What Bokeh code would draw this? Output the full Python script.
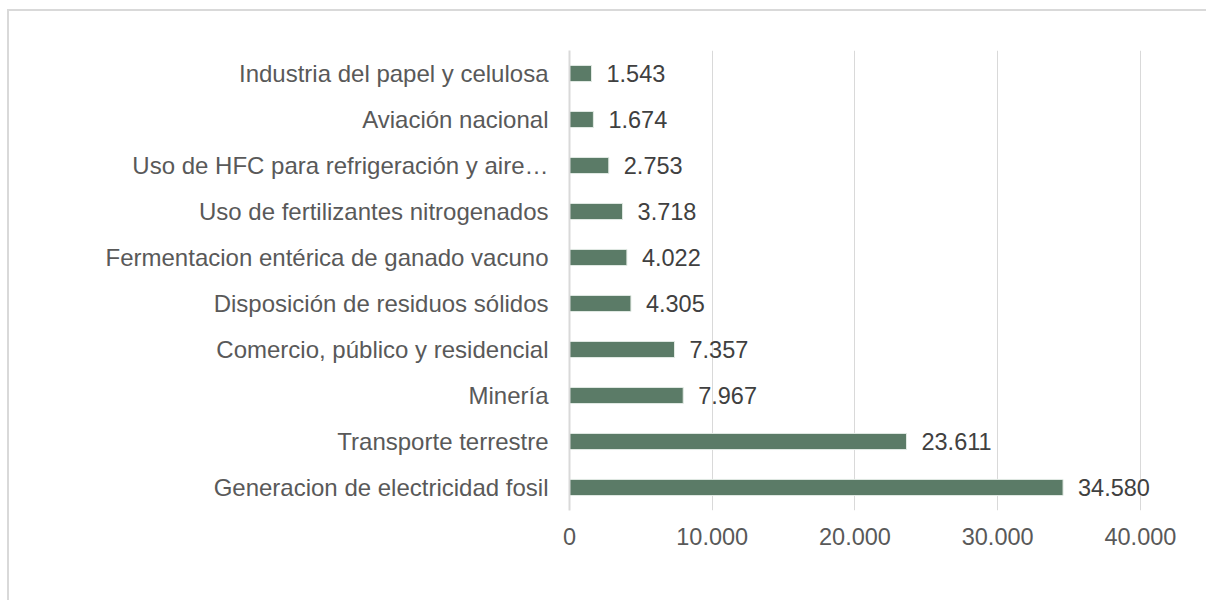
from bokeh.plotting import figure
from bokeh.models import ColumnDataSource, Range1d, FixedTicker, CustomJSTickFormatter, LabelSet
from bokeh.core.properties import value
from bokeh.embed import file_html
from bokeh.resources import INLINE

categories = [
    "Generacion de electricidad fosil",
    "Transporte terrestre",
    "Minería",
    "Comercio, público y residencial",
    "Disposición de residuos sólidos",
    "Fermentacion entérica de ganado vacuno",
    "Uso de fertilizantes nitrogenados",
    "Uso de HFC para refrigeración y aire…",
    "Aviación nacional",
    "Industria del papel y celulosa",
]
values = [34580, 23611, 7967, 7357, 4305, 4022, 3718, 2753, 1674, 1543]
value_labels = ["34.580", "23.611", "7.967", "7.357", "4.305", "4.022", "3.718", "2.753", "1.674", "1.543"]
x_ticks = [0, 10000, 20000, 30000, 40000]

src = ColumnDataSource(dict(cat=categories, val=values, lab=value_labels))

W, H = 1199, 591
FL, FT, FW, FH = 560, 39, 628, 460

p = figure(
    y_range=categories,
    x_range=Range1d(0, 44000),
    width=W, height=H,
    output_backend="svg",
    toolbar_location=None,
    min_border_left=FL, min_border_top=FT,
    min_border_right=W - FL - FW, min_border_bottom=H - FT - FH,
)
p.margin = (9, 0, 0, 7)
p.styles = {"border-top": "2px solid #D9D9D9", "border-left": "2px solid #D9D9D9"}
p.outline_line_color = None
p.background_fill_color = "white"
p.border_fill_color = "white"

p.hbar(y="cat", right="val", left=0, height=0.35, source=src,
       fill_color="#5B7B67", line_color="#E2EAE4", line_width=1)

labels = LabelSet(x="val", y="cat", text="lab", source=src, x_offset=15,
                  text_baseline="middle", text_font=value("Liberation Sans"),
                  text_font_size="23.5px", text_color="#404040")
p.add_layout(labels)

p.xgrid.grid_line_color = "#D9D9D9"
p.xgrid.grid_line_width = 1
p.ygrid.grid_line_color = None

p.xaxis.ticker = FixedTicker(ticks=x_ticks)
p.xaxis.formatter = CustomJSTickFormatter(code="return tick == 0 ? '0' : (tick/1000).toFixed(0) + '.000';")
p.xaxis.axis_line_color = None
p.xaxis.major_tick_line_color = None
p.xaxis.minor_tick_line_color = None
p.xaxis.major_label_standoff = 11
p.xaxis.major_label_text_font = "Liberation Sans"
p.xaxis.major_label_text_font_size = "23.5px"
p.xaxis.major_label_text_color = "#595959"

p.yaxis.axis_line_color = "#D9D9D9"
p.yaxis.axis_line_width = 2
p.yaxis.major_tick_line_color = None
p.yaxis.minor_tick_line_color = None
p.yaxis.major_label_standoff = 15
p.yaxis.major_label_text_font = "Liberation Sans"
p.yaxis.major_label_text_font_size = "24px"
p.yaxis.major_label_text_color = "#595959"

open("out.html", "w").write(file_html(p, INLINE))
